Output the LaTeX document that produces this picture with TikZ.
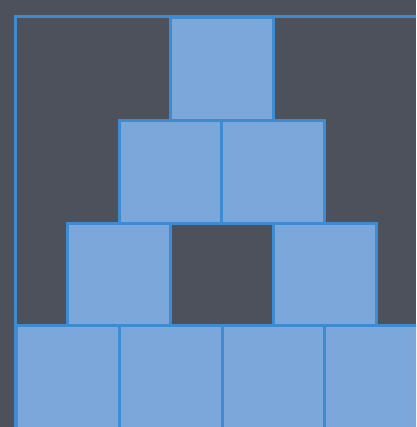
\documentclass[tikz,border=0pt]{standalone}
\begin{document}
\begin{tikzpicture}[x=1pt,y=-1pt,
  sq/.style={draw=edgeblue,fill=boxblue,line width=3pt,minimum size=102.7pt,inner sep=0pt,anchor=north west}]
\definecolor{bg}{HTML}{4D515B}
\definecolor{boxblue}{HTML}{7BA7DA}
\definecolor{edgeblue}{HTML}{3D8BD0}
\useasboundingbox (0,0) rectangle (416,427);
\fill[bg] (0,0) rectangle (416,427);
\clip (0,0) rectangle (416,427);
\draw[edgeblue,line width=2.5pt] (15.3,16.3) rectangle (440,440);
% top
\node[sq] (t) at (168.8,16.3) {};
% row 2
\node[sq] (r2a) at (117.6,119.0) {};
\node[sq] (r2b) at (220.3,119.0) {};
% row 3
\node[sq] (r3a) at (66.0,221.7) {};
\node[sq] (r3b) at (271.8,221.7) {};
% bottom
\node[sq] (b1) at (15.3,324.4) {};
\node[sq] (b2) at (118.0,324.4) {};
\node[sq] (b3) at (220.7,324.4) {};
\node[sq] (b4) at (323.4,324.4) {};
\end{tikzpicture}
\end{document}
